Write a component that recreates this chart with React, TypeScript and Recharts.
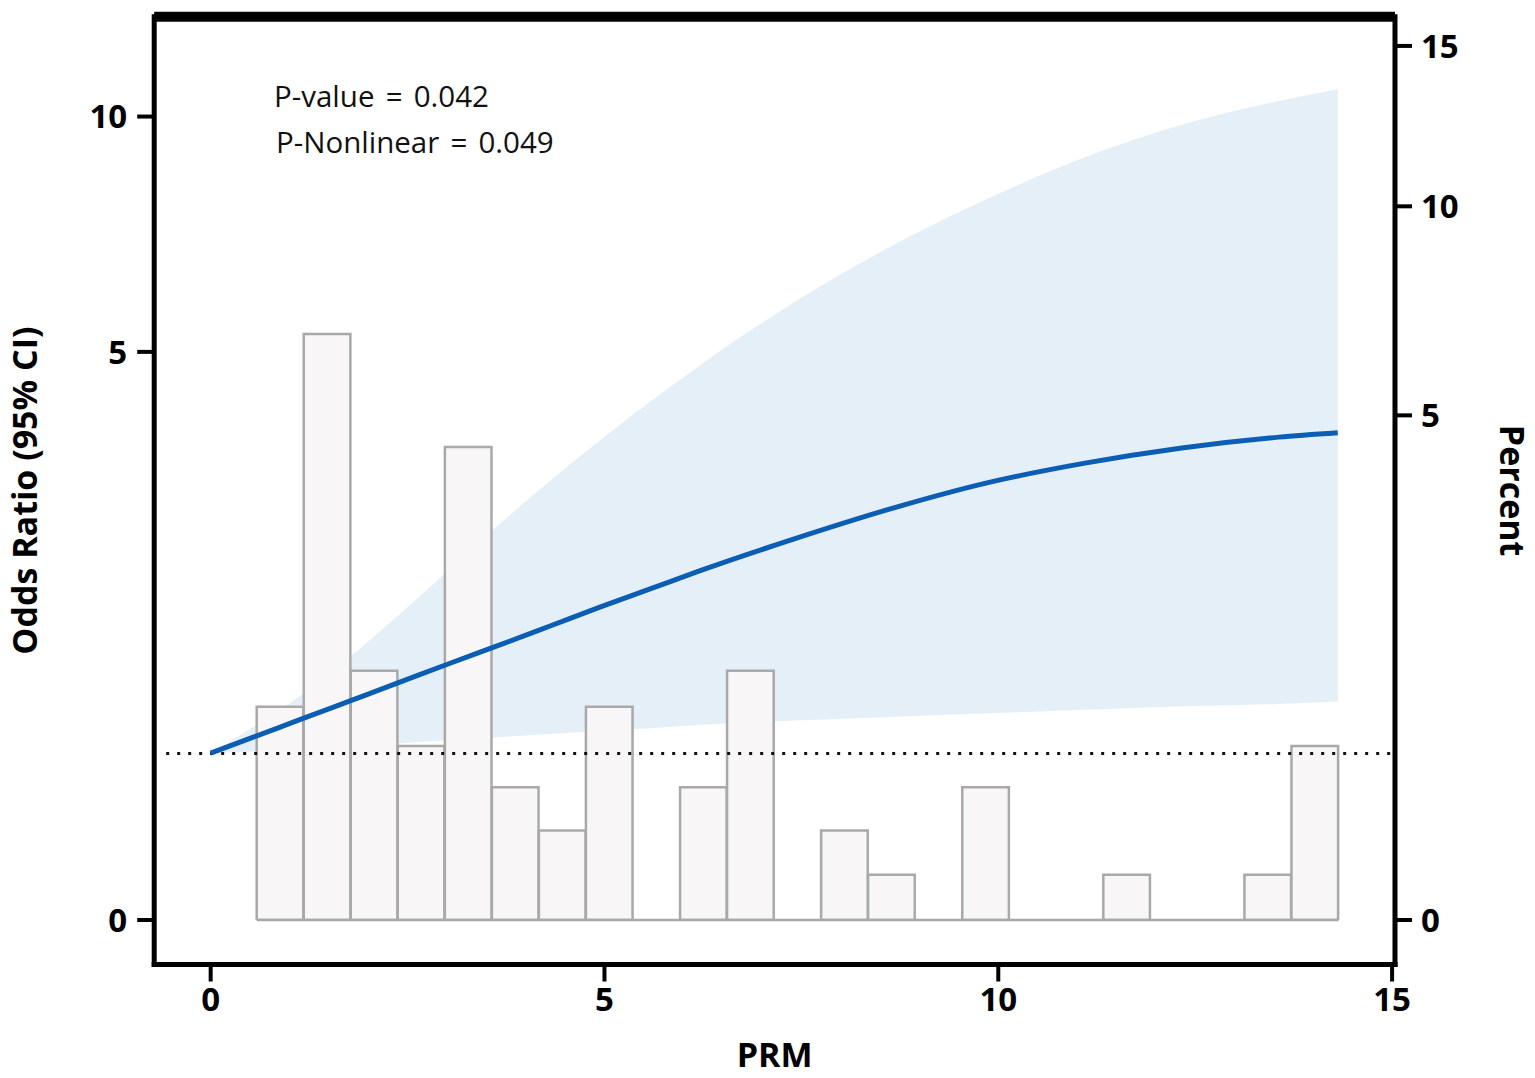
import React from 'react';
import {
  ComposedChart,
  Bar,
  Area,
  Line,
  XAxis,
  YAxis,
  ReferenceLine,
  Customized,
} from 'recharts';

// ---------- data ----------
// histogram bins (centre of each PRM bin) and their share (percent, right axis)
const binCenters = [
  0.883, 1.48, 2.077, 2.674, 3.272, 3.869, 4.466, 5.063, 5.66, 6.258, 6.855, 7.452,
  8.049, 8.646, 9.244, 9.841, 10.438, 11.035, 11.632, 12.23, 12.827, 13.424, 14.021,
];
const binPercent = [
  0.893, 6.741, 1.22, 0.594, 4.392, 0.346, 0.157, 0.893, 0, 0.346, 1.22, 0,
  0.157, 0.04, 0, 0.346, 0, 0, 0.04, 0, 0, 0.04, 0.594,
];
const binStart = 0.584;
const binEnd = 14.32;
const binWidth = 0.5972;

// restricted cubic spline: PRM vs odds ratio with 95% CI (left axis)
const curveX = [
  0, 0.55, 1.14, 1.77, 2.41, 3.04, 3.68, 4.31, 4.95, 5.58, 6.18, 7.41, 8.64, 9.87,
  11.1, 12.33, 13.56, 14.31,
];
const orEstimate = [
  0.431, 0.519, 0.623, 0.744, 0.878, 1.021, 1.174, 1.339, 1.519, 1.698, 1.88, 2.25,
  2.621, 2.963, 3.233, 3.452, 3.612, 3.678,
];
const orLower = [
  0.431, 0.44, 0.448, 0.464, 0.484, 0.502, 0.519, 0.536, 0.554, 0.57, 0.589, 0.617,
  0.639, 0.662, 0.684, 0.707, 0.723, 0.739,
];
const orUpper = [
  0.431, 0.58, 0.78, 1.073, 1.455, 1.911, 2.437, 2.99, 3.571, 4.162, 4.735, 5.912,
  7.031, 8.062, 9.01, 9.796, 10.392, 10.691,
];

const refOR = 0.43;
const refStartX = -0.565;

const xTicks = [0, 5, 10, 15];
const orTicks = [0, 5, 10];
const pctTicks = [0, 5, 10, 15];
const xDomain: [number, number] = [-0.717, 15.037];
const orDomain: [number, number] = [0, 12.64];
const pctDomain: [number, number] = [0, 16.02];

const annotations = ['P-value = 0.042', 'P-Nonlinear = 0.049'];

// ---------- tables ----------
const barData = binCenters.map((x, i) => ({ x, pct: binPercent[i] }));
const curveData = curveX.map((x, i) => ({
  x,
  or: orEstimate[i],
  ci: [orLower[i], orUpper[i]],
}));

// ---------- layout ----------
const W = 1535;
const H = 1078;
const M = { top: 16.7, right: 0, bottom: 53.5, left: 0 };
const LEFT_W = 154.2;
const RIGHT_W = 140;
const XAXIS_H = 60;
const plotW = W - M.left - M.right - LEFT_W - RIGHT_W;
const barPx = (binWidth * plotW) / (xDomain[1] - xDomain[0]) - 0.4;

const FONT = "'Open Sans', 'DejaVu Sans', sans-serif";
const tickStyle = { fontSize: 33, fontWeight: 700, fill: '#000', fontFamily: FONT };
const axisLineStyle = { stroke: '#000', strokeWidth: 5, strokeLinecap: 'square' as const };
const tickLineStyle = { stroke: '#000', strokeWidth: 4 };
const titleStyle = {
  fontSize: 34,
  fontWeight: 700,
  fill: '#000',
  fontFamily: FONT,
  textAnchor: 'middle' as const,
};

const Annotation = () => (
  <g fontSize={29.5} fontFamily={FONT} fill="#111" style={{ wordSpacing: '3.5px' }}>
    <text x={274} y={106.7}>
      {annotations[0]}
    </text>
    <text x={276} y={153.3}>
      {annotations[1]}
    </text>
  </g>
);

export default function App() {
  return (
    <div style={{ position: 'absolute', left: 0, top: 0, width: W, height: H }}>
      <ComposedChart width={W} height={H} data={barData} margin={M}>
        <XAxis
          xAxisId="x"
          dataKey="x"
          type="number"
          domain={xDomain}
          allowDataOverflow
          ticks={xTicks}
          interval={0}
          height={XAXIS_H}
          tick={tickStyle}
          tickSize={17}
          tickMargin={6}
          axisLine={axisLineStyle}
          tickLine={tickLineStyle}
          label={{ value: 'PRM', position: 'bottom', offset: 18, style: titleStyle }}
        />
        <XAxis
          xAxisId="bars"
          dataKey="x"
          type="number"
          domain={xDomain}
          allowDataOverflow
          height={0}
          hide
        />
        <YAxis
          yAxisId="or"
          scale="sqrt"
          type="number"
          domain={orDomain}
          allowDataOverflow
          ticks={orTicks}
          interval={0}
          width={LEFT_W}
          padding={{ top: 0, bottom: 44.5 }}
          tick={tickStyle}
          tickSize={17}
          tickMargin={10}
          axisLine={axisLineStyle}
          tickLine={tickLineStyle}
          label={{
            value: 'Odds Ratio (95% CI)',
            angle: -90,
            position: 'insideLeft',
            offset: 25,
            style: titleStyle,
          }}
        />
        <YAxis
          yAxisId="pct"
          orientation="right"
          scale="sqrt"
          type="number"
          domain={pctDomain}
          allowDataOverflow
          ticks={pctTicks}
          interval={0}
          width={RIGHT_W}
          padding={{ top: 0, bottom: 44.5 }}
          tick={tickStyle}
          tickSize={17}
          tickMargin={9}
          axisLine={axisLineStyle}
          tickLine={tickLineStyle}
          label={{
            value: 'Percent',
            angle: 90,
            position: 'insideRight',
            offset: 23,
            style: titleStyle,
          }}
        />
        <Bar
          xAxisId="bars"
          yAxisId="pct"
          dataKey="pct"
          barSize={barPx}
          fill="#f8f6f7"
          stroke="#a9a9a9"
          strokeWidth={2.5}
          isAnimationActive={false}
        />
        <ReferenceLine
          xAxisId="x"
          yAxisId="pct"
          segment={[
            { x: binStart, y: 0 },
            { x: binEnd, y: 0 },
          ]}
          stroke="#a9a9a9"
          strokeWidth={2.5}
        />
        <Area
          xAxisId="x"
          yAxisId="or"
          data={curveData}
          dataKey="ci"
          type="monotone"
          fill="#b4d2eb"
          fillOpacity={0.35}
          stroke="none"
          isAnimationActive={false}
          activeDot={false}
        />
        <ReferenceLine
          xAxisId="x"
          yAxisId="or"
          segment={[
            { x: refStartX, y: refOR },
            { x: xDomain[1], y: refOR },
          ]}
          stroke="#111"
          strokeWidth={3}
          strokeDasharray="3 8"
        />
        <Line
          xAxisId="x"
          yAxisId="or"
          data={curveData}
          dataKey="or"
          type="monotone"
          stroke="#0b5eb4"
          strokeWidth={5}
          dot={false}
          activeDot={false}
          isAnimationActive={false}
        />
        <ReferenceLine
          xAxisId="x"
          yAxisId="or"
          y={orDomain[1]}
          stroke="#000"
          strokeWidth={10}
        />
        <Customized component={Annotation} />
      </ComposedChart>
    </div>
  );
}
